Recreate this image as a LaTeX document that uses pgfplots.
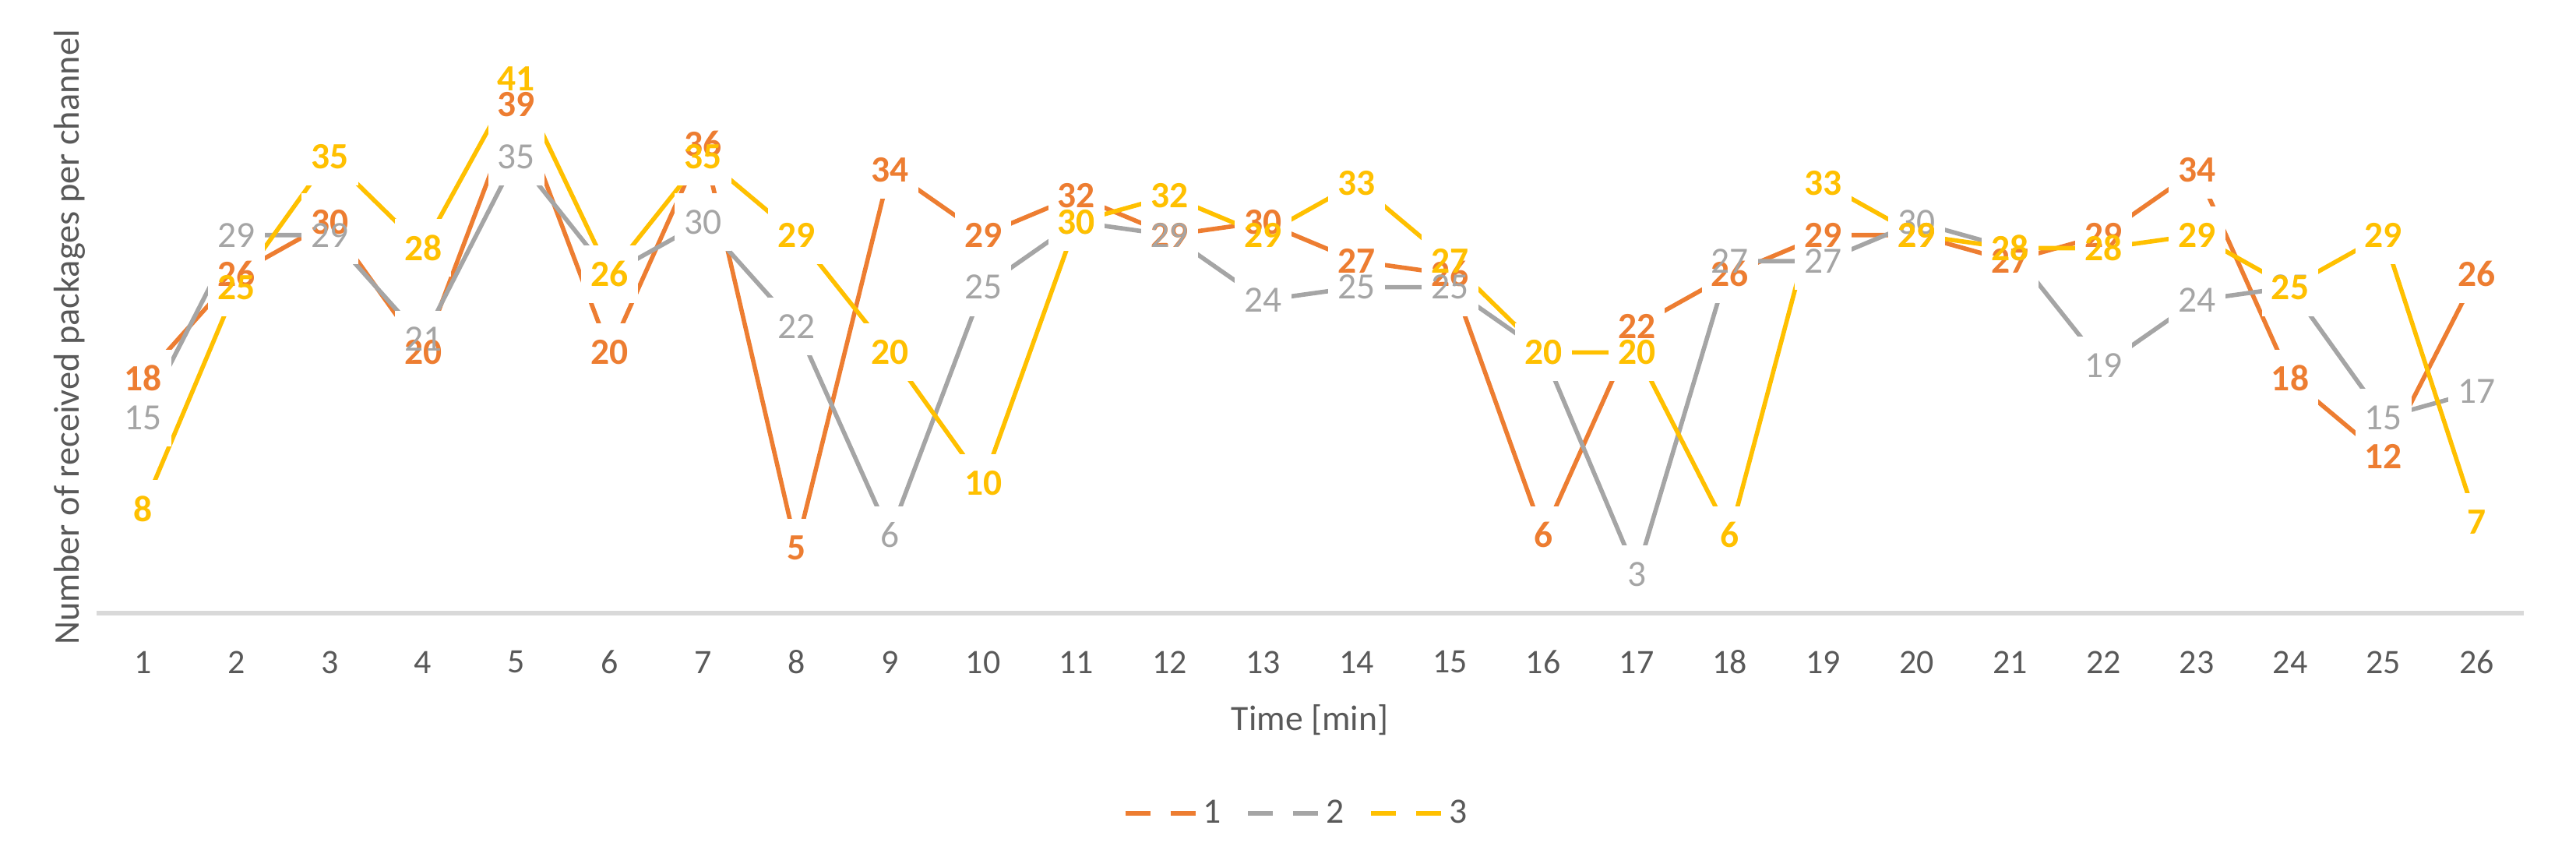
\documentclass[border=0pt]{standalone}
\usepackage{fontspec}
\setmainfont{Carlito}
\usepackage{pgfplots}
\usepackage{pgfplotstable}
\pgfplotsset{compat=1.18}
\definecolor{c1}{HTML}{ED7D31}
\definecolor{c2}{HTML}{A5A5A5}
\definecolor{c3}{HTML}{FFC000}
\definecolor{txt}{HTML}{595959}
\definecolor{axl}{HTML}{D9D9D9}
\pgfplotstableread{
x s1 s2 s3
1 18 15 8
2 26 29 25
3 30 29 35
4 20 21 28
5 39 35 41
6 20 26 26
7 36 30 35
8 5 22 29
9 34 6 20
10 29 25 10
11 32 30 30
12 29 29 32
13 30 24 29
14 27 25 33
15 26 25 27
16 6 20 20
17 22 3 20
18 26 27 6
19 29 27 33
20 29 30 29
21 27 28 28
22 29 19 28
23 34 24 29
24 18 25 25
25 12 15 29
26 26 17 7
}\data
\tikzset{
  boxlab/.style={anchor=center, fill=white, text=white, inner xsep=3.5pt, inner ysep=0pt, minimum height=0.74cm},
  txtlab/.style={anchor=center, inner xsep=3.5pt, inner ysep=0pt, minimum height=0.74cm},
}
\begin{document}
\begin{tikzpicture}
\useasboundingbox (0,0) rectangle (33.07cm,11.09cm);
\begin{axis}[
  at={(1.236cm,3.22cm)}, anchor=south west,
  scale only axis, width=31.16cm, height=7.53cm,
  xmin=0.5, xmax=26.5, ymin=0, ymax=45,
  axis x line=bottom, axis y line=none,
  x axis line style={draw=axl, line width=1.5pt, -},
  xtick={1,...,26}, major tick length=0pt, ytick=\empty,
  /pgf/number format/assume math mode=true,
  xticklabel style={anchor=center, yshift=-0.63cm, font=\fontsize{12.5}{15}\selectfont, text=txt},
  xlabel={Time [min]},
  xlabel style={at={(axis description cs:0.5,0)}, anchor=center, yshift=-1.37cm, font=\fontsize{13}{15}\selectfont, text=txt},
  legend style={at={(axis description cs:0.495,0)}, anchor=center, yshift=-2.57cm, draw=none, fill=none,
    legend columns=3, font=\fontsize{13}{15}\selectfont, text=txt,
    /tikz/every even column/.append style={column sep=0.25cm}},
  legend image code/.code={\draw[#1] (0cm,0cm) -- (0.32cm,0cm); \draw[#1] (0.58cm,0cm) -- (0.9cm,0cm);},
  clip=false,
]
\addplot[c1, line width=1.6pt, line join=round] table[x=x,y=s1]{\data};
\addlegendentry{1}
\addplot[c2, line width=1.6pt, line join=round] table[x=x,y=s2]{\data};
\addlegendentry{2}
\addplot[c3, line width=1.6pt, line join=round] table[x=x,y=s3]{\data};
\addlegendentry{3}
% white boxes that cut the lines around the labels
\addplot[draw=none, forget plot, nodes near coords, every node near coord/.append style={boxlab, font=\bfseries\fontsize{13.5}{16}\selectfont}] table[x=x,y=s1]{\data};
\addplot[draw=none, forget plot, nodes near coords, every node near coord/.append style={boxlab, font=\fontsize{13.5}{16}\selectfont}] table[x=x,y=s2]{\data};
\addplot[draw=none, forget plot, nodes near coords, every node near coord/.append style={boxlab, font=\bfseries\fontsize{13.5}{16}\selectfont}] table[x=x,y=s3]{\data};
% label texts
\addplot[draw=none, forget plot, nodes near coords, every node near coord/.append style={txtlab, text=c1, font=\bfseries\fontsize{13.5}{16}\selectfont}] table[x=x,y=s1]{\data};
\addplot[draw=none, forget plot, nodes near coords, every node near coord/.append style={txtlab, text=c2, font=\fontsize{13.5}{16}\selectfont}] table[x=x,y=s2]{\data};
\addplot[draw=none, forget plot, nodes near coords, every node near coord/.append style={txtlab, text=c3, font=\bfseries\fontsize{13.5}{16}\selectfont}] table[x=x,y=s3]{\data};
\end{axis}
\node[rotate=90, text=txt, font=\fontsize{13.2}{15}\selectfont] at (0.89cm,6.76cm) {Number of received packages per channel};
\end{tikzpicture}
\end{document}
